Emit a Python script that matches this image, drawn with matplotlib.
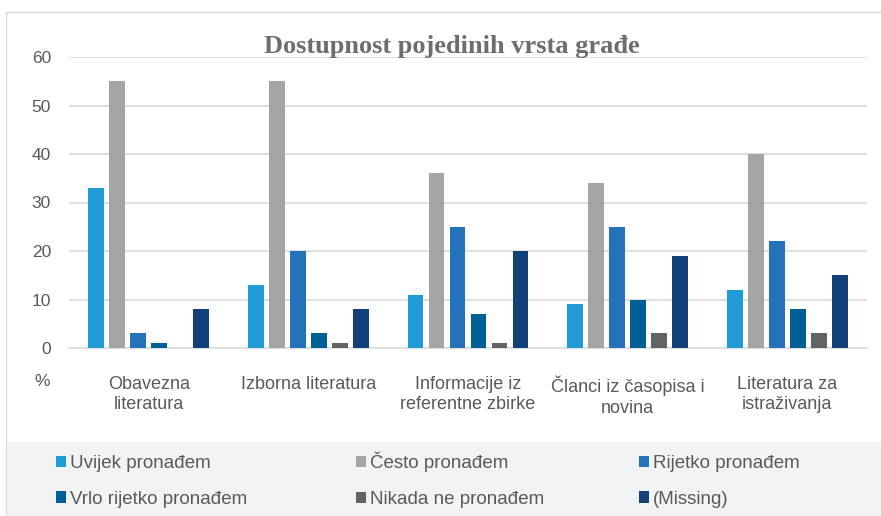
import numpy as np
import matplotlib
matplotlib.use("Agg")
import matplotlib.pyplot as plt
from matplotlib.patches import Rectangle

categories = ["Obavezna\nliteratura", "Izborna literatura", "Informacije iz\nreferentne zbirke",
              "Članci iz časopisa i\nnovina", "Literatura za\nistraživanja"]
series_names = ["Uvijek pronađem", "Često pronađem", "Rijetko pronađem",
                "Vrlo rijetko pronađem", "Nikada ne pronađem", "(Missing)"]
uvijek = [33, 13, 11, 9, 12]
cesto = [55, 55, 36, 34, 40]
rijetko = [3, 20, 25, 25, 22]
vrlo_rijetko = [1, 3, 7, 10, 8]
nikada = [0, 1, 1, 3, 3]
missing = [8, 8, 20, 19, 15]
colors = ["#1f9bd7", "#a5a5a5", "#2372ba", "#005f94", "#636363", "#124078"]

series = [uvijek, cesto, rijetko, vrlo_rijetko, nikada, missing]

plt.rcParams['font.family'] = ['Liberation Sans', 'DejaVu Sans']
fig = plt.figure(figsize=(8.81, 5.16), dpi=100)

# outer chart frame and legend band
fig.patches.append(Rectangle((6 / 881, 0), 1, (516 - 12) / 516, transform=fig.transFigure,
                             facecolor="white", edgecolor="#d9d9d9", lw=1, zorder=-2))
fig.patches.append(Rectangle((7 / 881, 0), 1, (516 - 442) / 516, transform=fig.transFigure,
                             facecolor="#f2f3f5", edgecolor="none", zorder=-1))

ax = fig.add_axes([69 / 881, (516 - 348) / 516, (867 - 69) / 881, (348 - 57) / 516])
ax.set_facecolor("none")
x = np.arange(len(categories))
pitch = 0.1316
width = 0.10
handles = []
for i, (vals, c) in enumerate(zip(series, colors)):
    h = ax.bar(x + (i - 2.5) * pitch, vals, width, color=c, label=series_names[i], zorder=3)
    handles.append(h)

ax.set_xlim(-0.5, len(categories) - 0.5)
ax.set_ylim(0, 60)
ax.set_yticks(range(0, 61, 10))
ax.grid(axis="y", color="#d9d9d9", lw=1.2, zorder=0)
for s in ["top", "right", "left"]:
    ax.spines[s].set_visible(False)
ax.spines["bottom"].set_color("#d9d9d9")
ax.spines["bottom"].set_linewidth(1.2)
ax.tick_params(axis="both", length=0, colors="#595959", labelsize=12.5)
ax.tick_params(axis="y", pad=13)
ax.tick_params(axis="x", pad=20, labelsize=13)
ax.set_xticks(x)
ax.set_xticklabels(categories, linespacing=1.25)

fig.text(42 / 881, 1 - 381 / 516, "%", color="#595959", fontsize=12.5, ha="center", va="center")
fig.text(452 / 881, 1 - 46 / 516, "Dostupnost pojedinih vrsta građe", color="#6d6d6d",
         fontsize=19, fontweight="bold", family=["Liberation Serif", "DejaVu Serif"],
         ha="center", va="center")

# three legend columns; middle one nudged up because of the tall "Č"
cols = [[0, 3], [1, 4], [2, 5]]
xs = [39, 339, 622]
ys = [438, 435, 438]
for xi, yi, idx in zip(xs, ys, cols):
    fig.legend([handles[k] for k in idx], [series_names[k] for k in idx],
               loc="upper left", bbox_to_anchor=(xi / 881, 1 - yi / 516),
               frameon=False, handlelength=0.55, handleheight=0.55, handletextpad=0.2,
               labelspacing=1.0, labelcolor="#595959",
               prop={"family": ["Liberation Sans"], "size": 13.5})

fig.savefig("out.png", dpi=100)
